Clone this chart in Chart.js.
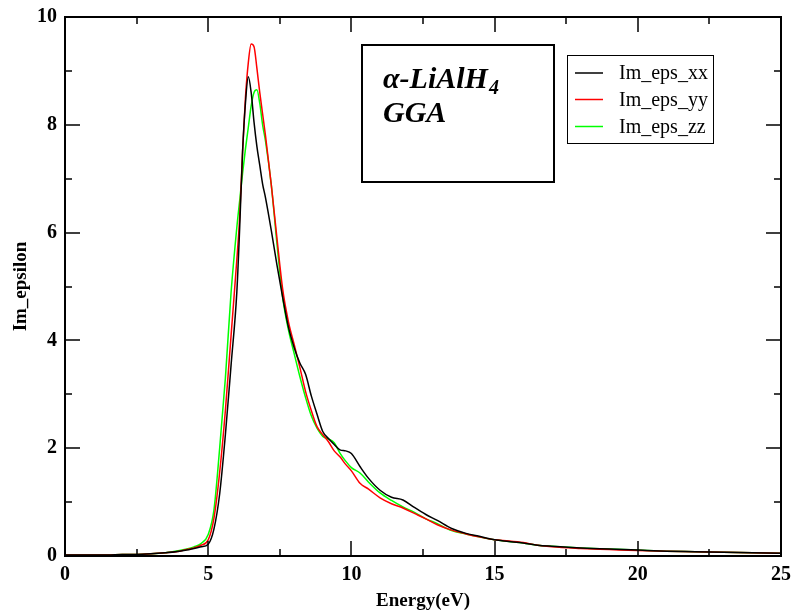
<!DOCTYPE html>
<html>
<head>
<meta charset="utf-8">
<script src="https://cdn.jsdelivr.net/npm/chart.js@4/dist/chart.umd.min.js"></script>
<style>
    body { margin: 0; background: #fff; }
    #wrap { width: 793px; height: 612px; }
</style>
</head>
<body>
<div id="wrap"><canvas id="epsChart" width="793" height="612"></canvas></div>
<script>
// photon energy (eV), shared by the three components
const energy = [0, 0.5, 1, 1.5, 2, 2.5, 3, 3.5, 4, 4.25, 4.5, 4.75, 5.0, 5.2, 5.4, 5.6, 5.8, 6.0, 6.1, 6.2, 6.3, 6.4, 6.5, 6.6, 6.7, 6.8, 6.9, 7.0, 7.2, 7.4, 7.6, 7.8, 8.0, 8.2, 8.4, 8.6, 8.8, 9.0, 9.2, 9.4, 9.6, 9.8, 10.0, 10.3, 10.6, 11.0, 11.4, 11.8, 12.2, 12.6, 13.0, 13.5, 14, 14.5, 15, 15.5, 16, 16.5, 17, 18, 19, 20, 21, 22, 23, 24, 25];

const imEpsXX = [0.02, 0.02, 0.02, 0.02, 0.03, 0.03, 0.04, 0.06, 0.09, 0.11, 0.14, 0.17, 0.22, 0.5, 1.15, 2.25, 3.55, 4.9, 6.1, 7.5, 8.4, 8.89, 8.6, 8.05, 7.6, 7.25, 6.9, 6.65, 6.05, 5.4, 4.8, 4.25, 3.87, 3.58, 3.37, 2.97, 2.63, 2.31, 2.18, 2.07, 1.97, 1.95, 1.9, 1.66, 1.44, 1.22, 1.09, 1.04, 0.9, 0.77, 0.66, 0.51, 0.42, 0.36, 0.3, 0.27, 0.24, 0.2, 0.18, 0.15, 0.13, 0.11, 0.09, 0.08, 0.07, 0.06, 0.05];
const imEpsYY = [0.02, 0.02, 0.02, 0.02, 0.03, 0.03, 0.04, 0.06, 0.09, 0.12, 0.15, 0.2, 0.3, 0.7, 1.55, 2.7, 4.1, 5.5, 6.3, 7.5, 8.5, 9.15, 9.5, 9.45, 9.05, 8.6, 8.2, 7.8, 6.9, 5.9, 4.95, 4.35, 3.93, 3.5, 3.05, 2.7, 2.4, 2.25, 2.12, 1.95, 1.84, 1.7, 1.58, 1.35, 1.24, 1.08, 0.97, 0.89, 0.79, 0.69, 0.58, 0.48, 0.41, 0.35, 0.3, 0.28, 0.25, 0.2, 0.17, 0.14, 0.12, 0.1, 0.09, 0.08, 0.07, 0.06, 0.05];
const imEpsZZ = [0.02, 0.02, 0.02, 0.02, 0.03, 0.03, 0.04, 0.06, 0.1, 0.13, 0.17, 0.23, 0.4, 0.85, 2.0, 3.3, 4.9, 6.1, 6.6, 7.1, 7.55, 7.95, 8.35, 8.6, 8.65, 8.4, 8.0, 7.7, 6.9, 5.8, 4.8, 4.2, 3.76, 3.33, 2.94, 2.6, 2.37, 2.22, 2.17, 2.1, 1.91, 1.76, 1.64, 1.54, 1.37, 1.17, 1.03, 0.91, 0.81, 0.69, 0.6, 0.47, 0.41, 0.35, 0.3, 0.27, 0.24, 0.2, 0.18, 0.15, 0.13, 0.11, 0.09, 0.08, 0.07, 0.06, 0.05];

const seriesNames = ['Im_eps_xx', 'Im_eps_yy', 'Im_eps_zz'];
const seriesColors = ['#000000', '#ff0000', '#00ff00'];

const xTicks = [0, 5, 10, 15, 20, 25];
const yTicks = [0, 2, 4, 6, 8, 10];

const serif = "'Liberation Serif', 'DejaVu Serif', serif";

function toPoints(vals) {
    return energy.map((e, i) => ({ x: e, y: vals[i] }));
}

// inward ticks on all four sides, plus the top/right frame
const frameTicks = {
    id: 'frameTicks',
    afterDatasetsDraw(chart) {
        const ctx = chart.ctx;
        const a = chart.chartArea;
        const xs = chart.scales.x;
        const ys = chart.scales.y;
        ctx.save();
        ctx.strokeStyle = '#000';
        ctx.lineWidth = 2;
        ctx.strokeRect(a.left, a.top, a.right - a.left, a.bottom - a.top);

        ctx.lineWidth = 1.5;
        for (let v = 0; v <= 25; v += 2.5) {
            const px = Math.round(xs.getPixelForValue(v));
            const len = (v % 5 === 0) ? 15 : 7;
            ctx.beginPath();
            ctx.moveTo(px, a.bottom); ctx.lineTo(px, a.bottom - len);
            ctx.moveTo(px, a.top); ctx.lineTo(px, a.top + len);
            ctx.stroke();
        }
        for (let v = 0; v <= 10; v += 1) {
            const py = Math.round(ys.getPixelForValue(v));
            const len = (v % 2 === 0) ? 15 : 7;
            ctx.beginPath();
            ctx.moveTo(a.left, py); ctx.lineTo(a.left + len, py);
            ctx.moveTo(a.right, py); ctx.lineTo(a.right - len, py);
            ctx.stroke();
        }
        ctx.restore();
    }
};

// text box and legend box drawn inside the plot
const boxes = {
    id: 'boxes',
    afterDraw(chart) {
        const ctx = chart.ctx;
        ctx.save();
        ctx.strokeStyle = '#000';
        ctx.lineWidth = 2;
        ctx.strokeRect(362, 45, 192, 137);

        ctx.fillStyle = '#000';
        ctx.textBaseline = 'alphabetic';
        ctx.font = 'italic bold 30px ' + serif;
        ctx.fillText('α-LiAlH', 383, 88);
        const w = ctx.measureText('α-LiAlH').width;
        ctx.font = 'italic bold 20px ' + serif;
        ctx.fillText('4', 383 + w + 1, 94);
        ctx.font = 'italic bold 30px ' + serif;
        ctx.fillText('GGA', 383, 122);

        // legend
        ctx.lineWidth = 1;
        ctx.strokeRect(567.5, 55.5, 146, 88);
        ctx.font = '20px ' + serif;
        ctx.textBaseline = 'middle';
        const rows = [73, 99.5, 126.5];
        chart.data.datasets.forEach((ds, i) => {
            ctx.strokeStyle = ds.borderColor;
            ctx.lineWidth = 1.5;
            ctx.beginPath();
            ctx.moveTo(575, rows[i]);
            ctx.lineTo(603, rows[i]);
            ctx.stroke();
            ctx.fillStyle = '#000';
            ctx.fillText(ds.label, 619, rows[i] + 1);
        });
        ctx.restore();
    }
};

const chart = new Chart(document.getElementById('epsChart'), {
    type: 'line',
    data: {
        datasets: [
            { label: seriesNames[0], data: toPoints(imEpsXX), borderColor: seriesColors[0] },
            { label: seriesNames[1], data: toPoints(imEpsYY), borderColor: seriesColors[1] },
            { label: seriesNames[2], data: toPoints(imEpsZZ), borderColor: seriesColors[2] }
        ].map(ds => Object.assign(ds, {
            borderWidth: 1.5,
            pointRadius: 0,
            fill: false,
            cubicInterpolationMode: 'monotone'
        }))
    },
    options: {
        responsive: false,
        animation: false,
        layout: { padding: { top: 17, right: 12, left: 0, bottom: 0 } },
        plugins: {
            legend: { display: false },
            tooltip: { enabled: false }
        },
        scales: {
            x: {
                type: 'linear',
                min: 0,
                max: 25,
                afterBuildTicks: s => { s.ticks = xTicks.map(v => ({ value: v })); },
                grid: { display: false, drawTicks: false },
                border: { display: true, color: '#000', width: 2 },
                ticks: {
                    color: '#000',
                    padding: 7,
                    maxRotation: 0,
                    font: { family: serif, size: 20, weight: 'bold' }
                },
                title: {
                    display: true,
                    text: 'Energy(eV)',
                    color: '#000',
                    padding: { top: 0, bottom: 0 },
                    font: { family: serif, size: 19, weight: 'bold' }
                },
                afterFit: s => { s.height = 56; s.paddingLeft = 0; s.paddingRight = 0; }
            },
            y: {
                min: 0,
                max: 10,
                afterBuildTicks: s => { s.ticks = yTicks.map(v => ({ value: v })); },
                grid: { display: false, drawTicks: false },
                border: { display: true, color: '#000', width: 2 },
                ticks: {
                    color: '#000',
                    padding: 8,
                    font: { family: serif, size: 20, weight: 'bold' }
                },
                title: {
                    display: true,
                    text: 'Im_epsilon',
                    color: '#000',
                    padding: { top: 10, bottom: 0 },
                    font: { family: serif, size: 19, weight: 'bold' }
                },
                afterFit: s => { s.width = 65; s.paddingTop = 0; s.paddingBottom = 0; }
            }
        }
    },
    plugins: [frameTicks, boxes]
});
</script>
</body>
</html>
